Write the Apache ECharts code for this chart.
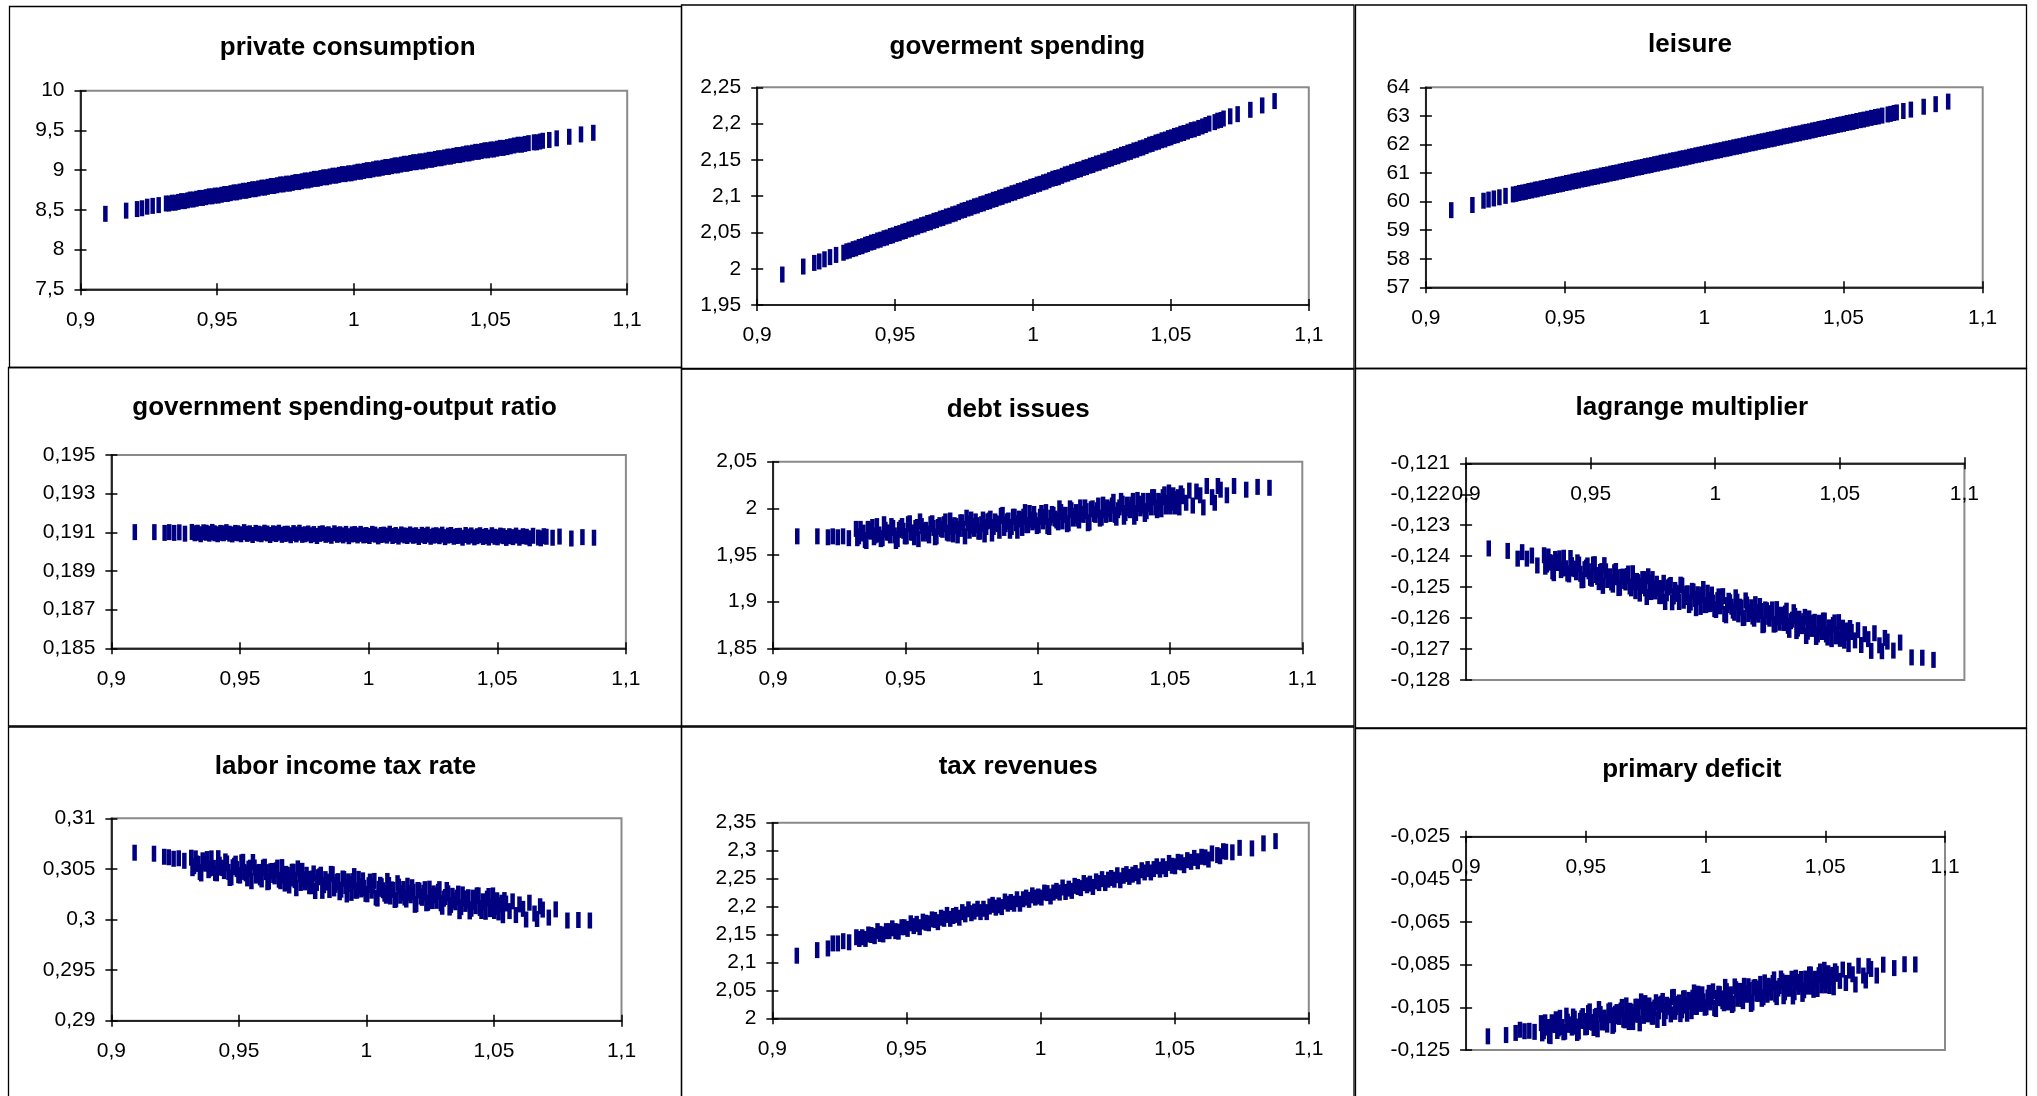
<!DOCTYPE html>
<html><head><meta charset="utf-8">
<script src="https://cdn.jsdelivr.net/npm/echarts@6/dist/echarts.min.js"></script>
<style>html,body{margin:0;padding:0;background:#fff}#c{width:2037px;height:1096px}</style>
</head><body><div id="c"></div>
<script>
// shared x (technology shock) sample positions
const X = [0.9091,0.9167,0.9207,0.9225,0.9244,0.9264,0.9286,
0.9313,0.9324,0.9335,0.9347,0.9358,0.9369,0.9381,0.9392,0.9401,0.9413,0.9424,0.9436,0.9447,0.9459,0.9470,0.9482,0.9492,0.9504,0.9516,0.9527,
0.9538,0.9549,0.9561,0.9572,0.9583,0.9595,0.9606,0.9617,0.9629,0.9640,0.9651,0.9663,0.9674,0.9685,0.9697,0.9708,0.9719,0.9731,0.9742,0.9753,
0.9765,0.9776,0.9787,0.9799,0.9810,0.9821,0.9833,0.9844,0.9855,0.9867,0.9878,0.9889,0.9901,0.9912,0.9923,0.9935,0.9946,0.9957,0.9969,0.9980,
0.9991,1.0003,1.0014,1.0025,1.0037,1.0048,1.0059,1.0071,1.0082,1.0093,1.0105,1.0116,1.0127,1.0139,1.0150,1.0161,1.0173,1.0184,1.0195,1.0207,
1.0218,1.0229,1.0241,1.0252,1.0263,1.0275,1.0286,1.0297,1.0309,1.0320,1.0331,1.0343,1.0354,1.0365,1.0377,1.0388,1.0399,1.0411,1.0422,1.0433,
1.0445,1.0456,1.0467,1.0479,1.0490,1.0501,1.0512,1.0524,1.0535,1.0547,
1.0561,1.0573,1.0586,1.0600,1.0614,1.0626,1.0639,1.0659,1.0669,1.0681,1.0691,1.0715,1.0742,1.0788,1.0831,1.0876];

// second group of samples in the dense middle (used by the noisy series)
const XB = [0.9318,0.9330,0.9341,0.9352,0.9364,0.9375,0.9386,
0.9407,0.9419,0.9430,0.9442,0.9453,0.9464,0.9476,0.9487,0.9498,0.9510,0.9521,0.9533,0.9544,0.9555,0.9567,0.9578,0.9589,0.9601,0.9612,0.9623,
0.9635,0.9646,0.9657,0.9669,0.9680,0.9691,0.9703,0.9714,0.9725,0.9737,0.9748,0.9759,0.9771,0.9782,0.9793,0.9805,0.9816,0.9827,0.9839,0.9850,
0.9861,0.9873,0.9884,0.9895,0.9907,0.9918,0.9929,0.9941,0.9952,0.9963,0.9975,0.9986,0.9997,1.0009,1.0020,1.0031,1.0043,1.0054,1.0065,1.0077,
1.0088,1.0099,1.0111,1.0122,1.0133,1.0145,1.0156,1.0167,1.0179,1.0190,1.0201,1.0213,1.0224,1.0235,1.0247,1.0258,1.0269,1.0281,1.0292,1.0303,
1.0315,1.0326,1.0337,1.0349,1.0360,1.0371,1.0383,1.0394,1.0405,1.0417,1.0428,1.0439,1.0451,1.0462,1.0473,1.0484,1.0496,1.0507,1.0518,1.0530,
1.0541];

const consumption = [8.45,8.49,8.51,8.52,8.54,8.55,8.56,
8.58,8.58,8.59,8.59,8.60,8.61,8.61,8.62,8.63,8.63,8.64,8.65,8.65,8.66,8.67,8.67,8.68,8.68,8.69,8.70,
8.70,8.71,8.72,8.72,8.73,8.74,8.74,8.75,8.76,8.76,8.77,8.78,8.78,8.79,8.80,8.80,8.81,8.82,8.82,8.83,
8.83,8.84,8.85,8.85,8.86,8.87,8.87,8.88,8.89,8.89,8.90,8.91,8.91,8.92,8.93,8.93,8.94,8.95,8.95,8.96,
8.96,8.97,8.98,8.98,8.99,9.00,9.00,9.01,9.02,9.02,9.03,9.04,9.04,9.05,9.06,9.06,9.07,9.08,9.08,9.09,
9.10,9.10,9.11,9.11,9.12,9.13,9.13,9.14,9.15,9.15,9.16,9.17,9.17,9.18,9.19,9.19,9.20,9.21,9.21,9.22,
9.23,9.23,9.24,9.25,9.25,9.26,9.26,9.27,9.28,9.28,
9.29,9.30,9.31,9.32,9.32,9.33,9.34,9.35,9.35,9.36,9.37,9.38,9.40,9.42,9.45,9.47];

const govSpending = [1.992,2.003,2.008,2.010,2.013,2.016,2.019,
2.022,2.024,2.025,2.027,2.028,2.030,2.031,2.033,2.034,2.036,2.037,2.039,2.040,2.042,2.043,2.045,2.046,2.048,2.049,2.051,
2.052,2.054,2.055,2.057,2.058,2.060,2.061,2.063,2.064,2.066,2.067,2.069,2.070,2.072,2.073,2.075,2.076,2.078,2.080,2.081,
2.083,2.084,2.086,2.087,2.089,2.090,2.092,2.093,2.095,2.096,2.098,2.099,2.101,2.102,2.104,2.105,2.107,2.108,2.110,2.111,
2.113,2.114,2.116,2.117,2.119,2.120,2.122,2.124,2.125,2.126,2.128,2.130,2.131,2.133,2.134,2.136,2.137,2.139,2.140,2.142,
2.143,2.145,2.146,2.148,2.149,2.151,2.152,2.154,2.155,2.157,2.158,2.160,2.161,2.163,2.164,2.166,2.167,2.169,2.171,2.172,
2.174,2.175,2.177,2.178,2.180,2.181,2.183,2.184,2.186,2.187,
2.189,2.191,2.192,2.194,2.196,2.198,2.200,2.202,2.204,2.205,2.207,2.210,2.213,2.219,2.225,2.231];

const leisure = [59.70,59.88,60.03,60.07,60.11,60.15,60.20,
60.25,60.27,60.30,60.32,60.34,60.37,60.39,60.42,60.43,60.46,60.48,60.51,60.53,60.55,60.58,60.60,60.62,60.65,60.67,60.70,
60.72,60.74,60.77,60.79,60.81,60.84,60.86,60.88,60.91,60.93,60.95,60.98,61.00,61.02,61.05,61.07,61.10,61.12,61.14,61.17,
61.19,61.21,61.24,61.26,61.28,61.31,61.33,61.36,61.38,61.40,61.43,61.45,61.47,61.50,61.52,61.54,61.57,61.59,61.62,61.64,
61.66,61.69,61.71,61.73,61.76,61.78,61.80,61.83,61.85,61.87,61.90,61.92,61.94,61.97,61.99,62.02,62.04,62.06,62.09,62.11,
62.13,62.16,62.18,62.20,62.23,62.25,62.28,62.30,62.32,62.35,62.37,62.39,62.42,62.44,62.46,62.49,62.51,62.54,62.56,62.58,
62.61,62.63,62.65,62.68,62.70,62.72,62.75,62.77,62.79,62.82,
62.85,62.87,62.90,62.93,62.96,62.98,63.01,63.05,63.07,63.10,63.12,63.17,63.22,63.32,63.41,63.50];

const govRatio = [0.19101,0.19101,0.19097,0.19101,0.19097,0.19100,0.19093,
0.19102,0.19095,0.19098,0.19090,0.19100,0.19098,0.19093,0.19102,0.19095,0.19090,0.19097,0.19095,0.19101,0.19093,0.19089,0.19097,0.19095,0.19090,0.19101,0.19092,
0.19095,0.19086,0.19097,0.19093,0.19090,0.19098,0.19094,0.19086,0.19095,0.19091,0.19098,0.19087,0.19092,0.19093,0.19085,0.19096,0.19089,0.19098,0.19087,0.19090,
0.19094,0.19085,0.19091,0.19081,0.19092,0.19095,0.19087,0.19090,0.19082,0.19095,0.19087,0.19090,0.19084,0.19092,0.19080,0.19089,0.19091,0.19084,0.19092,0.19084,
0.19086,0.19081,0.19092,0.19088,0.19079,0.19086,0.19088,0.19083,0.19093,0.19081,0.19086,0.19078,0.19089,0.19084,0.19081,0.19089,0.19082,0.19085,0.19076,0.19087,
0.19081,0.19088,0.19077,0.19083,0.19085,0.19080,0.19088,0.19075,0.19083,0.19086,0.19077,0.19081,0.19082,0.19072,0.19086,0.19078,0.19084,0.19074,0.19080,0.19085,
0.19076,0.19081,0.19073,0.19085,0.19077,0.19074,0.19083,0.19080,0.19071,0.19080,
0.19075,0.19083,0.19072,0.19080,0.19077,0.19069,0.19082,0.19073,0.19069,0.19080,0.19077,0.19072,0.19078,0.19068,0.19075,0.19072];

const debt = [1.970,1.970,1.969,1.970,1.969,1.970,1.968,
1.978,1.970,1.973,1.966,1.978,1.975,1.969,1.981,1.972,1.968,1.977,1.974,1.981,1.971,1.967,1.979,1.976,1.970,1.984,1.974,
1.979,1.967,1.981,1.976,1.973,1.983,1.979,1.970,1.982,1.977,1.986,1.973,1.980,1.982,1.971,1.985,1.978,1.990,1.976,1.981,
1.986,1.975,1.983,1.972,1.986,1.989,1.980,1.984,1.976,1.993,1.983,1.987,1.980,1.991,1.976,1.988,1.991,1.982,1.995,1.985,
1.987,1.982,1.995,1.991,1.981,1.990,1.993,1.987,2.000,1.986,1.993,1.984,1.998,1.992,1.989,2.001,1.993,1.997,1.985,2.000,
1.993,2.003,1.990,1.998,2.001,1.994,2.007,1.990,2.001,2.005,1.995,2.000,2.004,1.991,2.009,2.000,2.008,1.997,2.005,2.012,
2.001,2.008,1.999,2.015,2.006,2.002,2.014,2.010,2.001,2.013,
2.006,2.019,2.003,2.018,2.014,2.001,2.024,2.012,2.006,2.024,2.020,2.014,2.024,2.020,2.023,2.022];
const debtB = [1.968,1.978,1.974,1.965,1.976,1.980,1.971,
1.967,1.983,1.974,1.971,1.979,1.965,1.977,1.981,1.970,1.983,1.974,1.969,1.980,1.986,1.973,1.977,1.971,1.984,1.969,1.980,
1.978,1.983,1.974,1.987,1.972,1.981,1.978,1.985,1.970,1.984,1.988,1.978,1.982,1.975,1.988,1.980,1.987,1.973,1.986,1.983,
1.992,1.979,1.986,1.976,1.991,1.984,1.989,1.979,1.996,1.982,1.988,1.994,1.981,1.991,1.986,1.996,1.980,1.994,1.989,1.985,
1.996,1.993,1.983,2.000,1.989,1.996,1.987,1.994,2.001,1.984,1.999,1.994,1.998,1.989,2.004,1.993,1.999,2.003,1.993,1.998,
2.008,1.991,2.004,1.998,2.008,1.995,2.005,2.003,1.994,2.008,2.001,2.012,1.998,2.007,2.012,2.002,2.017,2.006,2.002,2.012,
2.016];

const lagrange = [-0.12375,-0.12383,-0.12408,-0.12387,-0.12408,-0.12398,-0.12430,
-0.12397,-0.12427,-0.12419,-0.12449,-0.12409,-0.12422,-0.12445,-0.12405,-0.12439,-0.12459,-0.12429,-0.12442,-0.12420,-0.12457,-0.12477,-0.12437,-0.12449,-0.12473,-0.12426,-0.12467,
-0.12451,-0.12496,-0.12449,-0.12468,-0.12485,-0.12452,-0.12468,-0.12502,-0.12466,-0.12485,-0.12456,-0.12504,-0.12485,-0.12480,-0.12521,-0.12474,-0.12504,-0.12465,-0.12516,-0.12504,
-0.12489,-0.12529,-0.12503,-0.12548,-0.12501,-0.12493,-0.12530,-0.12518,-0.12548,-0.12495,-0.12532,-0.12520,-0.12550,-0.12514,-0.12568,-0.12532,-0.12524,-0.12558,-0.12518,-0.12555,
-0.12550,-0.12574,-0.12530,-0.12546,-0.12587,-0.12558,-0.12549,-0.12576,-0.12533,-0.12588,-0.12566,-0.12599,-0.12556,-0.12579,-0.12595,-0.12555,-0.12589,-0.12577,-0.12621,-0.12575,
-0.12602,-0.12572,-0.12620,-0.12598,-0.12589,-0.12616,-0.12576,-0.12638,-0.12605,-0.12593,-0.12634,-0.12619,-0.12610,-0.12658,-0.12601,-0.12635,-0.12612,-0.12653,-0.12631,-0.12608,
-0.12653,-0.12630,-0.12668,-0.12614,-0.12651,-0.12667,-0.12631,-0.12647,-0.12684,-0.12645,
-0.12672,-0.12639,-0.12687,-0.12652,-0.12668,-0.12706,-0.12649,-0.12688,-0.12707,-0.12664,-0.12676,-0.12705,-0.12679,-0.12727,-0.12728,-0.12735];
const lagrangeB = [-0.12434,-0.12401,-0.12421,-0.12455,-0.12418,-0.12407,-0.12440,
-0.12456,-0.12406,-0.12440,-0.12452,-0.12427,-0.12478,-0.12442,-0.12430,-0.12470,-0.12427,-0.12461,-0.12484,-0.12448,-0.12429,-0.12477,-0.12465,-0.12492,-0.12448,-0.12503,-0.12467,
-0.12480,-0.12464,-0.12498,-0.12455,-0.12513,-0.12484,-0.12496,-0.12474,-0.12532,-0.12485,-0.12474,-0.12514,-0.12503,-0.12529,-0.12486,-0.12520,-0.12497,-0.12549,-0.12509,-0.12522,
-0.12492,-0.12544,-0.12521,-0.12558,-0.12512,-0.12538,-0.12523,-0.12564,-0.12506,-0.12558,-0.12542,-0.12524,-0.12571,-0.12542,-0.12562,-0.12529,-0.12591,-0.12544,-0.12563,-0.12583,
-0.12547,-0.12563,-0.12600,-0.12543,-0.12587,-0.12565,-0.12602,-0.12580,-0.12561,-0.12623,-0.12572,-0.12596,-0.12584,-0.12621,-0.12571,-0.12615,-0.12596,-0.12585,-0.12625,-0.12610,
-0.12581,-0.12642,-0.12602,-0.12626,-0.12596,-0.12644,-0.12615,-0.12624,-0.12661,-0.12615,-0.12645,-0.12608,-0.12663,-0.12634,-0.12622,-0.12659,-0.12613,-0.12653,-0.12673,-0.12640,
-0.12632];

const taxRate = [0.30660,0.30650,0.30620,0.30615,0.30600,0.30605,0.30580,
0.30611,0.30527,0.30554,0.30469,0.30585,0.30551,0.30487,0.30604,0.30510,0.30456,0.30542,0.30508,0.30574,0.30470,0.30416,0.30532,0.30498,0.30434,0.30570,0.30456,
0.30502,0.30378,0.30514,0.30460,0.30416,0.30512,0.30468,0.30375,0.30480,0.30426,0.30513,0.30378,0.30435,0.30451,0.30336,0.30472,0.30389,0.30505,0.30361,0.30397,
0.30442,0.30329,0.30405,0.30281,0.30417,0.30443,0.30339,0.30375,0.30291,0.30447,0.30343,0.30379,0.30295,0.30401,0.30247,0.30353,0.30379,0.30285,0.30401,0.30297,
0.30313,0.30249,0.30375,0.30331,0.30217,0.30303,0.30329,0.30255,0.30381,0.30227,0.30293,0.30199,0.30325,0.30261,0.30217,0.30334,0.30239,0.30275,0.30152,0.30287,
0.30214,0.30300,0.30165,0.30232,0.30258,0.30184,0.30300,0.30126,0.30222,0.30258,0.30144,0.30190,0.30216,0.30082,0.30248,0.30154,0.30220,0.30106,0.30172,0.30238,
0.30114,0.30180,0.30076,0.30232,0.30128,0.30084,0.30190,0.30146,0.30042,0.30158,
0.30083,0.30179,0.30044,0.30149,0.30105,0.30000,0.30166,0.30059,0.30005,0.30131,0.30098,0.30019,0.30100,0.29990,0.29995,0.29990];
const taxRateB = [0.30507,0.30604,0.30549,0.30455,0.30561,0.30597,0.30504,
0.30460,0.30606,0.30512,0.30478,0.30554,0.30410,0.30516,0.30552,0.30438,0.30564,0.30470,0.30406,0.30512,0.30568,0.30434,0.30470,0.30396,0.30522,0.30368,0.30475,
0.30440,0.30486,0.30393,0.30518,0.30355,0.30441,0.30406,0.30472,0.30309,0.30445,0.30481,0.30367,0.30402,0.30329,0.30455,0.30361,0.30427,0.30283,0.30399,0.30365,
0.30451,0.30307,0.30373,0.30269,0.30405,0.30331,0.30377,0.30263,0.30429,0.30285,0.30331,0.30387,0.30253,0.30339,0.30285,0.30381,0.30207,0.30343,0.30289,0.30235,
0.30341,0.30297,0.30193,0.30359,0.30235,0.30301,0.30197,0.30264,0.30319,0.30145,0.30292,0.30227,0.30264,0.30160,0.30305,0.30182,0.30238,0.30274,0.30160,0.30206,
0.30292,0.30118,0.30234,0.30170,0.30256,0.30122,0.30208,0.30184,0.30080,0.30216,0.30132,0.30238,0.30084,0.30170,0.30206,0.30102,0.30238,0.30124,0.30070,0.30166,
0.30192];

const taxRevenue = [2.112,2.122,2.125,2.134,2.134,2.138,2.136,
2.145,2.142,2.145,2.142,2.150,2.149,2.147,2.156,2.151,2.150,2.156,2.156,2.161,2.156,2.155,2.163,2.163,2.160,2.170,2.165,
2.169,2.163,2.173,2.171,2.170,2.177,2.176,2.172,2.180,2.178,2.185,2.178,2.183,2.185,2.180,2.190,2.186,2.195,2.188,2.191,
2.196,2.190,2.196,2.190,2.200,2.203,2.198,2.202,2.199,2.209,2.205,2.208,2.205,2.213,2.205,2.213,2.216,2.212,2.220,2.216,
2.218,2.216,2.225,2.224,2.218,2.225,2.228,2.225,2.234,2.226,2.232,2.228,2.237,2.235,2.233,2.242,2.238,2.241,2.235,2.245,
2.242,2.249,2.242,2.248,2.251,2.248,2.256,2.247,2.255,2.258,2.253,2.257,2.260,2.254,2.265,2.261,2.267,2.261,2.267,2.272,
2.266,2.272,2.267,2.278,2.273,2.272,2.280,2.279,2.274,2.283,
2.280,2.287,2.281,2.289,2.288,2.284,2.295,2.292,2.290,2.299,2.298,2.297,2.305,2.304,2.313,2.317];

const deficit = [-0.1186,-0.1180,-0.1170,-0.1155,-0.1162,-0.1160,-0.1165,
-0.1124,-0.1162,-0.1145,-0.1182,-0.1120,-0.1133,-0.1161,-0.1099,-0.1142,-0.1164,-0.1117,-0.1130,-0.1093,-0.1140,-0.1163,-0.1101,-0.1114,-0.1142,-0.1069,-0.1122,
-0.1095,-0.1153,-0.1081,-0.1103,-0.1121,-0.1069,-0.1087,-0.1130,-0.1072,-0.1095,-0.1048,-0.1111,-0.1079,-0.1066,-0.1119,-0.1047,-0.1085,-0.1022,-0.1090,-0.1068,
-0.1041,-0.1094,-0.1051,-0.1109,-0.1037,-0.1020,-0.1068,-0.1045,-0.1083,-0.1001,-0.1049,-0.1027,-0.1064,-0.1007,-0.1080,-0.1023,-0.1005,-0.1048,-0.0986,-0.1034,
-0.1022,-0.1049,-0.0982,-0.1000,-0.1053,-0.1006,-0.0988,-0.1021,-0.0954,-0.1027,-0.0989,-0.1032,-0.0965,-0.0993,-0.1011,-0.0949,-0.0991,-0.0969,-0.1027,-0.0955,
-0.0987,-0.0940,-0.1003,-0.0966,-0.0949,-0.0981,-0.0919,-0.1002,-0.0950,-0.0928,-0.0980,-0.0953,-0.0936,-0.0999,-0.0911,-0.0954,-0.0917,-0.0970,-0.0933,-0.0896,
-0.0953,-0.0916,-0.0964,-0.0882,-0.0929,-0.0947,-0.0890,-0.0908,-0.0956,-0.0893,
-0.0926,-0.0873,-0.0936,-0.0878,-0.0895,-0.0943,-0.0855,-0.0901,-0.0924,-0.0857,-0.0870,-0.0901,-0.0850,-0.0866,-0.0848,-0.0849];
const deficitB = [-0.1172,-0.1120,-0.1142,-0.1185,-0.1128,-0.1106,-0.1149,
-0.1167,-0.1089,-0.1132,-0.1145,-0.1103,-0.1170,-0.1113,-0.1091,-0.1144,-0.1077,-0.1119,-0.1147,-0.1090,-0.1058,-0.1121,-0.1098,-0.1131,-0.1064,-0.1137,-0.1080,
-0.1092,-0.1065,-0.1108,-0.1041,-0.1119,-0.1071,-0.1084,-0.1047,-0.1125,-0.1052,-0.1030,-0.1083,-0.1061,-0.1094,-0.1026,-0.1069,-0.1032,-0.1100,-0.1038,-0.1050,
-0.1003,-0.1071,-0.1034,-0.1082,-0.1009,-0.1042,-0.1015,-0.1068,-0.0980,-0.1048,-0.1021,-0.0989,-0.1052,-0.1004,-0.1027,-0.0975,-0.1058,-0.0986,-0.1008,-0.1031,
-0.0974,-0.0992,-0.1039,-0.0952,-0.1010,-0.0973,-0.1021,-0.0984,-0.0951,-0.1034,-0.0957,-0.0985,-0.0962,-0.1010,-0.0933,-0.0991,-0.0959,-0.0936,-0.0989,-0.0962,
-0.0915,-0.0998,-0.0935,-0.0963,-0.0916,-0.0979,-0.0931,-0.0939,-0.0987,-0.0915,-0.0953,-0.0896,-0.0968,-0.0921,-0.0899,-0.0947,-0.0874,-0.0927,-0.0950,-0.0898,
-0.0881];

// tick labels
const xTicks = [0.9, 0.95, 1, 1.05, 1.1];
const yTicksConsumption = [7.5, 8, 8.5, 9, 9.5, 10];
const yTicksGovSpending = [1.95, 2, 2.05, 2.1, 2.15, 2.2, 2.25];
const yTicksLeisure = [57, 58, 59, 60, 61, 62, 63, 64];
const yTicksRatio = [0.185, 0.187, 0.189, 0.191, 0.193, 0.195];
const yTicksDebt = [1.85, 1.9, 1.95, 2, 2.05];
const yTicksLagrange = [-0.128, -0.127, -0.126, -0.125, -0.124, -0.123, -0.122, -0.121];
const yTicksTaxRate = [0.29, 0.295, 0.3, 0.305, 0.31];
const yTicksTaxRevenue = [2, 2.05, 2.1, 2.15, 2.2, 2.25, 2.3, 2.35];
const yTicksDeficit = [-0.125, -0.105, -0.085, -0.065, -0.045, -0.025];

const titles = ['private consumption', 'goverment spending', 'leisure',
  'government spending-output ratio', 'debt issues', 'lagrange multiplier',
  'labor income tax rate', 'tax revenues', 'primary deficit'];

// panel definitions (data refs + layout)
const panels = [
  { t: 0, y: yTicksConsumption, sets: [[X, consumption]], grid: [80.5, 90.7, 546.7, 198.6], tp: [347.7, 48.3], box: [9.5, 6.5, 681.5, 367.5], top: false },
  { t: 1, y: yTicksGovSpending, sets: [[X, govSpending]], grid: [757.2, 87.3, 551.6, 217.7], tp: [1017.4, 46.7], box: [681.5, 5, 1354, 368.5], top: false },
  { t: 2, y: yTicksLeisure, sets: [[X, leisure]], grid: [1425.9, 87.3, 556.8, 200], tp: [1690, 45], box: [1355.5, 5, 2026.5, 368.5], top: false },
  { t: 3, y: yTicksRatio, sets: [[X, govRatio]], grid: [111.4, 455, 514.5, 193.3], tp: [344.6, 408.3], box: [8.5, 367.5, 681.5, 726], top: false },
  { t: 4, y: yTicksDebt, sets: [[X, debt], [XB, debtB]], grid: [773.2, 461.7, 529.1, 186.6], tp: [1018.2, 410], box: [681.5, 369, 1354, 726], top: false },
  { t: 5, y: yTicksLagrange, sets: [[X, lagrange], [XB, lagrangeB]], grid: [1466.1, 463.3, 498.3, 216.7], tp: [1691.8, 408.3], box: [1355.5, 368.5, 2026.5, 728], top: true },
  { t: 6, y: yTicksTaxRate, sets: [[X, taxRate], [XB, taxRateB]], grid: [111.4, 818.3, 510.1, 202.4], tp: [345.5, 766.7], box: [8.5, 727, 681.5, 1110], top: false },
  { t: 7, y: yTicksTaxRevenue, sets: [[X, taxRevenue]], grid: [772.4, 822.7, 536.4, 195.6], tp: [1018.2, 766.7], box: [681.5, 727, 1354, 1110], top: false },
  { t: 8, y: yTicksDeficit, sets: [[X, deficit], [XB, deficitB]], grid: [1466.1, 836.7, 478.9, 213.3], tp: [1691.8, 770], box: [1355.5, 728.5, 2026.5, 1110], top: true }
];

const FONT = 'Liberation Sans, Arial, sans-serif';
const fmt = v => String(parseFloat(Number(v).toFixed(6))).replace('.', ',');
const lineStyle = { color: '#000', width: 1.5 };

const option = {
  animation: false,
  backgroundColor: '#fff',
  title: [], grid: [], xAxis: [], yAxis: [], series: [],
  graphic: { elements: [] }
};

panels.forEach((p, i) => {
  const [gl, gt, gw, gh] = p.grid;
  option.grid.push({ left: gl, top: gt, width: gw, height: gh, show: true,
    borderColor: '#8a8a8a', borderWidth: 2, backgroundColor: 'transparent',
    containLabel: false, outerBoundsMode: 'none' });
  option.title.push({ text: titles[p.t], left: p.tp[0], top: p.tp[1], padding: 0,
    textAlign: 'center', textVerticalAlign: 'middle',
    textStyle: { fontFamily: FONT, fontSize: 26, fontWeight: 'bold', color: '#000' } });
  const pos = p.top ? 'top' : 'bottom';
  const xMin = xTicks[0], xMax = xTicks[xTicks.length - 1];
  option.xAxis.push({ type: 'value', gridIndex: i, position: pos, min: xMin, max: xMax, interval: 0.05,
    axisLine: { show: true, onZero: false, lineStyle },
    axisTick: { show: true, inside: false, length: 6, lineStyle, customValues: xTicks },
    axisLabel: { show: true, inside: p.top, margin: 20, fontFamily: FONT, fontSize: 21, color: '#000',
      formatter: fmt, customValues: xTicks },
    splitLine: { show: false } });
  option.xAxis.push({ type: 'value', gridIndex: i, position: pos, min: xMin, max: xMax, interval: 0.05,
    axisLine: { show: false, onZero: false },
    axisTick: { show: true, inside: true, length: 6, lineStyle, customValues: xTicks },
    axisLabel: { show: false }, splitLine: { show: false } });
  const yMin = p.y[0], yMax = p.y[p.y.length - 1];
  option.yAxis.push({ type: 'value', gridIndex: i, position: 'left', min: yMin, max: yMax,
    axisLine: { show: true, onZero: false, lineStyle },
    axisTick: { show: true, inside: false, length: 6, lineStyle, customValues: p.y },
    axisLabel: { show: true, margin: 16, fontFamily: FONT, fontSize: 21, color: '#000',
      formatter: fmt, customValues: p.y },
    splitLine: { show: false } });
  option.yAxis.push({ type: 'value', gridIndex: i, position: 'left', min: yMin, max: yMax,
    axisLine: { show: false, onZero: false },
    axisTick: { show: true, inside: true, length: 6, lineStyle, customValues: p.y },
    axisLabel: { show: false }, splitLine: { show: false } });
  p.sets.forEach(([xs, ys]) => {
    option.series.push({ type: 'scatter', xAxisIndex: 2 * i, yAxisIndex: 2 * i,
      symbol: 'rect', symbolSize: [4.5, 16], silent: true,
      itemStyle: { color: '#000080', opacity: 1 },
      data: xs.map((x, k) => [x, ys[k]]) });
  });
  const [bx1, by1, bx2, by2] = p.box;
  option.graphic.elements.push({ type: 'rect', silent: true, z: 100,
    shape: { x: bx1, y: by1, width: bx2 - bx1, height: by2 - by1 },
    style: { fill: null, stroke: '#000', lineWidth: 1.3 } });
});

const chart = echarts.init(document.getElementById('c'), null, { renderer: 'canvas' });
chart.setOption(option);
</script>
</body></html>
